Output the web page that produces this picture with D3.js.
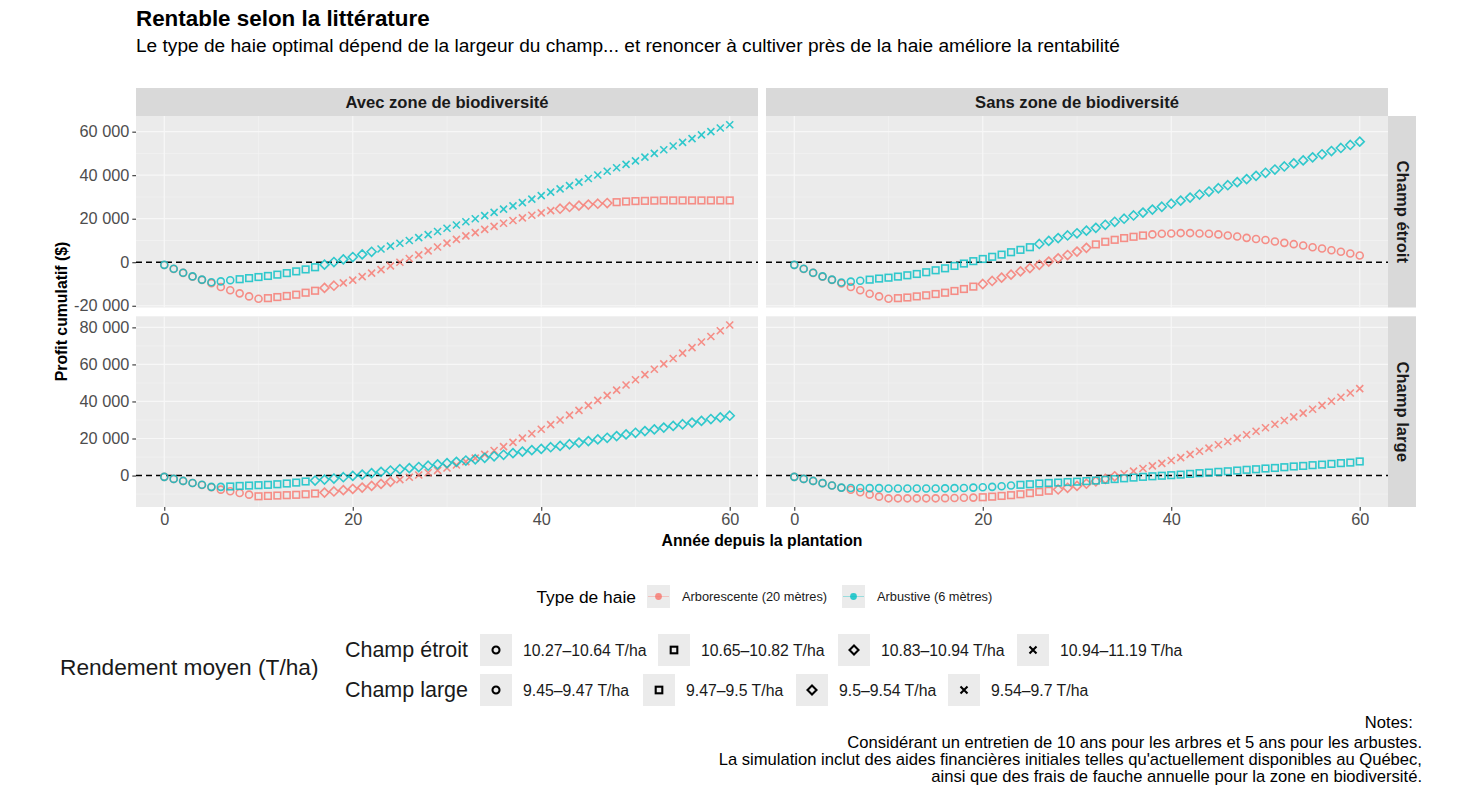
<!DOCTYPE html>
<html lang="fr">
<head>
<meta charset="utf-8">
<title>Rentable selon la littérature</title>
<style>
  body { margin: 0; background: #fff; }
  svg { font-family: "Liberation Sans", Arial, sans-serif; }
  .tick-label { fill: #4d4d4d; font-size: 16.3px; }
  .strip-text { fill: #1a1a1a; font-size: 16.6px; font-weight: bold; }
  .axis-title { fill: #000; font-size: 15.8px; font-weight: bold; }
</style>
</head>
<body>
<script src="https://cdn.jsdelivr.net/npm/d3@7"></script>
<script>
// années depuis la plantation
var annees = d3.range(0, 61);

// profit cumulatif, en milliers de $
var etroitAvecArbo = [-1.3,-3.1,-4.9,-6.6,-8.1,-9.6,-11.4,-12.9,-14.3,-15.7,-16.8,-16.5,-16.0,-15.5,-14.9,-14.0,-13.1,-11.8,-10.8,-9.5,
  -8.2,-6.6,-5.0,-3.4,-1.7,0.0,1.7,3.4,5.2,7.0,8.8,10.5,12.1,13.6,15.1,16.5,17.9,19.2,20.4,21.6,
  22.7,23.7,24.6,25.4,26.0,26.5,26.9,27.2,27.6,27.9,28.1,28.2,28.3,28.4,28.4,28.4,28.4,28.4,28.4,28.4,28.4];
var etroitAvecArbu = [-1.2,-3.0,-4.8,-6.5,-8.0,-9.2,-8.8,-8.3,-7.8,-7.3,-6.8,-6.3,-5.7,-5.0,-4.2,-3.3,-2.3,-1.1,0.1,1.3,
  2.4,3.6,4.8,6.1,7.4,8.7,10.0,11.3,12.7,14.1,15.6,17.1,18.6,20.0,21.4,22.9,24.4,25.9,27.4,29.0,
  30.6,32.2,33.7,35.2,36.8,38.5,40.1,41.8,43.4,45.0,46.6,48.3,50.0,51.7,53.4,55.1,56.8,58.5,60.0,61.7,63.2];
var etroitSansArbo = [-1.3,-3.1,-4.9,-6.6,-8.1,-9.7,-11.4,-12.9,-14.5,-15.7,-16.8,-16.5,-16.2,-15.7,-15.2,-14.6,-14.0,-13.2,-12.3,-11.2,
  -10.0,-8.6,-7.1,-5.7,-4.2,-2.7,-1.2,0.3,1.8,3.3,4.9,6.6,8.2,9.4,10.3,11.1,11.7,12.3,12.8,13.1,
  13.2,13.4,13.4,13.2,13.1,12.8,12.3,11.8,11.2,10.7,10.2,9.5,8.9,8.3,7.7,6.9,6.3,5.5,4.8,4.0,3.1];
var etroitSansArbu = [-1.2,-3.0,-4.8,-6.5,-8.0,-9.3,-8.9,-8.5,-8.0,-7.5,-7.1,-6.6,-6.0,-5.4,-4.6,-3.7,-2.8,-1.7,-0.6,0.5,
  1.5,2.5,3.5,4.6,5.7,6.9,8.4,9.8,11.1,12.3,13.3,14.5,15.8,17.2,18.6,20.0,21.5,22.8,24.2,25.5,
  26.9,28.3,29.7,31.1,32.5,34.0,35.4,36.8,38.2,39.7,41.1,42.6,44.0,45.4,46.8,48.2,49.6,51.1,52.5,53.9,55.4];
var largeAvecArbo = [-0.7,-1.8,-2.9,-4.0,-5.1,-6.3,-7.6,-8.5,-9.4,-10.3,-11.2,-11.0,-10.8,-10.6,-10.4,-10.1,-9.7,-9.2,-8.6,-7.9,
  -7.2,-6.5,-5.6,-4.5,-3.4,-2.2,-0.9,0.3,1.5,2.8,4.1,5.7,7.5,9.4,11.4,13.5,15.6,17.9,20.2,22.6,
  25.0,27.5,30.0,32.6,35.2,37.9,40.6,43.3,46.1,48.9,51.7,54.5,57.4,60.3,63.2,66.1,69.1,72.1,75.1,78.2,81.3];
var largeAvecArbu = [-0.7,-1.8,-2.9,-4.0,-5.0,-6.1,-6.1,-5.9,-5.6,-5.4,-5.2,-5.0,-4.7,-4.3,-3.8,-3.2,-2.7,-2.2,-1.6,-0.9,
  -0.2,0.5,1.3,2.0,2.7,3.4,4.0,4.6,5.3,6.0,6.7,7.4,8.1,8.8,9.6,10.4,11.2,12.1,12.9,13.7,
  14.4,15.3,16.0,16.9,17.8,18.6,19.5,20.4,21.3,22.2,23.1,24.0,24.9,25.9,26.8,27.7,28.6,29.5,30.5,31.4,32.3];
var largeSansArbo = [-0.7,-1.8,-2.9,-4.1,-5.4,-6.6,-7.7,-9.0,-10.3,-11.4,-12.3,-12.3,-12.3,-12.3,-12.3,-12.3,-12.2,-12.1,-12.0,-11.9,
  -11.7,-11.4,-11.0,-10.6,-10.1,-9.5,-8.8,-8.2,-7.5,-6.6,-5.6,-4.4,-3.1,-1.8,-0.4,1.0,2.4,3.8,5.2,6.6,
  8.1,9.7,11.4,13.1,14.8,16.6,18.4,20.2,22.0,23.9,25.8,27.7,29.7,31.7,33.7,35.8,37.9,40.1,42.3,44.6,46.9];
var largeSansArbu = [-0.7,-1.8,-2.9,-4.1,-5.4,-6.5,-6.7,-6.7,-6.8,-6.8,-7.0,-7.0,-7.0,-7.0,-7.0,-7.0,-6.9,-6.8,-6.7,-6.5,
  -6.3,-6.1,-5.8,-5.4,-5.0,-4.7,-4.3,-4.0,-3.8,-3.5,-3.3,-3.0,-2.7,-2.3,-1.9,-1.5,-1.1,-0.7,-0.4,-0.1,
  0.2,0.5,0.9,1.3,1.6,2.0,2.3,2.7,3.1,3.4,3.8,4.1,4.5,4.9,5.2,5.6,5.9,6.3,6.7,7.0,7.6];

// classe de rendement de chaque année (0 cercle, 1 carré, 2 losange, 3 croix)
var classeEtroitAvecArbo = "00000000000" + "111111" + "22" + "3333333333" + "3333333333" + "333" + "222222" + "1111111111" + "111";
var classeEtroitAvecArbu = "00000000" + "111111111" + "222222" + "3333333333" + "3333333333" + "3333333333" + "33333333";
var classeEtroitSansArbo = "00000000000" + "111111111" + "222222222222" + "111111" + "0000000000" + "0000000000" + "000";
var classeEtroitSansArbu = "00000000" + "1111111111" + "11111111" + "2222222222" + "2222222222" + "2222222222" + "22222";
var classeLargeAvecArbo  = "0000000000" + "1111111" + "22222222" + "3333333333" + "3333333333" + "3333333333" + "333333";
var classeLargeAvecArbu  = "0000000" + "111111111" + "2222222222" + "2222222222" + "2222222222" + "2222222222" + "22222";
var classeLargeSansArbo  = "0000000000" + "0000000000" + "11111111" + "2222222" + "3333333333" + "3333333333" + "333333";
var classeLargeSansArbu  = "0000000000" + "0000000000" + "0000" + "1111111111" + "1111111111" + "1111111111" + "1111111";

var zones = ["Avec zone de biodiversité", "Sans zone de biodiversité"];
var champs = ["Champ étroit", "Champ large"];
var typesHaie = ["Arborescente (20 mètres)", "Arbustive (6 mètres)"];
var couleurs = ["#F8766D", "#00BFC4"];
var classesEtroit = ["10.27–10.64 T/ha", "10.65–10.82 T/ha", "10.83–10.94 T/ha", "10.94–11.19 T/ha"];
var classesLarge = ["9.45–9.47 T/ha", "9.47–9.5 T/ha", "9.5–9.54 T/ha", "9.54–9.7 T/ha"];
var xTicks = [0, 20, 40, 60];
var yTicksEtroit = [-20000, 0, 20000, 40000, 60000];
var yTicksLarge = [0, 20000, 40000, 60000, 80000];

var notes = ["Notes:\u00a0\u00a0",
  "Considérant un entretien de 10 ans pour les arbres et 5 ans pour les arbustes.",
  "La simulation inclut des aides financières initiales telles qu'actuellement disponibles au Québec,",
  "ainsi que des frais de fauche annuelle pour la zone en biodiversité."];

// séries par panneau [ligne][colonne] -> [arborescente, arbustive]
var panneaux = [
  [[[etroitAvecArbo, classeEtroitAvecArbo], [etroitAvecArbu, classeEtroitAvecArbu]],
   [[etroitSansArbo, classeEtroitSansArbo], [etroitSansArbu, classeEtroitSansArbu]]],
  [[[largeAvecArbo, classeLargeAvecArbo], [largeAvecArbu, classeLargeAvecArbu]],
   [[largeSansArbo, classeLargeSansArbo], [largeSansArbu, classeLargeSansArbu]]]
];

var width = 1467, height = 786;
var colX = [[136, 758], [766, 1388]];
var rowY = [[116, 307.5], [316.3, 507]];
var stripH = 28, stripW = 28;

var svg = d3.select("body").append("svg")
  .attr("width", width).attr("height", height);

var fmt = function(v) {
  var s = d3.format(",")(Math.abs(v)).replace(/,/g, " ");
  return (v < 0 ? "-" : "") + s;
};

// symboles ggplot : 1 cercle, 0 carré, 5 losange, 4 croix
function symbole(g, classe, couleur, taille, sw) {
  var k = taille;
  if (classe === 0) {
    g.append("circle").attr("r", 3.5 * k);
  } else if (classe === 1) {
    g.append("rect").attr("x", -3.3 * k).attr("y", -3.3 * k)
      .attr("width", 6.6 * k).attr("height", 6.6 * k);
  } else if (classe === 2) {
    g.append("path").attr("d", "M0," + (-4.5 * k) + "L" + (4.5 * k) + ",0L0," + (4.5 * k) + "L" + (-4.5 * k) + ",0Z");
  } else {
    var a = 3.5 * k;
    g.append("path").attr("d", "M" + -a + "," + -a + "L" + a + "," + a + "M" + -a + "," + a + "L" + a + "," + -a);
  }
  g.selectAll("*").attr("fill", "none").attr("stroke", couleur).attr("stroke-width", sw);
}

// titres
svg.append("text").attr("x", 136).attr("y", 26)
  .style("font-size", "22.4px").style("font-weight", "bold").text("Rentable selon la littérature");
svg.append("text").attr("x", 136).attr("y", 52)
  .style("font-size", "19.1px")
  .text("Le type de haie optimal dépend de la largeur du champ... et renoncer à cultiver près de la haie améliore la rentabilité");

var x = [0, 1].map(function(c) {
  return d3.scaleLinear().domain([-3, 63]).range(colX[c]);
});

var y = [0, 1].map(function(r) {
  var vals = [];
  panneaux[r].forEach(function(p) { p.forEach(function(s) { vals = vals.concat(s[0]); }); });
  var ext = d3.extent(vals, function(v) { return v * 1000; });
  var pad = (ext[1] - ext[0]) * 0.05;
  return d3.scaleLinear().domain([ext[0] - pad, ext[1] + pad]).range([rowY[r][1], rowY[r][0]]);
});
var yTicks = [yTicksEtroit, yTicksLarge];

// bandeaux du haut
zones.forEach(function(z, c) {
  svg.append("rect").attr("x", colX[c][0]).attr("y", rowY[0][0] - stripH)
    .attr("width", colX[c][1] - colX[c][0]).attr("height", stripH).attr("fill", "#D9D9D9");
  svg.append("text").attr("class", "strip-text")
    .attr("x", (colX[c][0] + colX[c][1]) / 2).attr("y", rowY[0][0] - stripH / 2)
    .attr("text-anchor", "middle").attr("dominant-baseline", "central").text(z);
});

// bandeaux de droite
champs.forEach(function(ch, r) {
  svg.append("rect").attr("x", colX[1][1]).attr("y", rowY[r][0])
    .attr("width", stripW).attr("height", rowY[r][1] - rowY[r][0]).attr("fill", "#D9D9D9");
  var cx = colX[1][1] + stripW / 2, cy = (rowY[r][0] + rowY[r][1]) / 2;
  svg.append("text").attr("class", "strip-text")
    .attr("transform", "translate(" + cx + "," + cy + ") rotate(90)")
    .attr("text-anchor", "middle").attr("dominant-baseline", "central").text(ch);
});

// panneaux
champs.forEach(function(ch, r) {
  zones.forEach(function(z, c) {
    var g = svg.append("g");
    var xs = x[c], ys = y[r];
    g.append("rect").attr("x", colX[c][0]).attr("y", rowY[r][0])
      .attr("width", colX[c][1] - colX[c][0]).attr("height", rowY[r][1] - rowY[r][0])
      .attr("fill", "#EBEBEB");

    // grille mineure
    var yt = yTicks[r];
    var yMin = [];
    for (var i = 0; i < yt.length - 1; i++) yMin.push((yt[i] + yt[i + 1]) / 2);
    if (r === 1) yMin.unshift(-10000);
    var xMin = [10, 30, 50];
    g.selectAll(".ymin").data(yMin.filter(function(v) {
        return ys(v) > rowY[r][0] && ys(v) < rowY[r][1];
      })).enter().append("line")
      .attr("x1", colX[c][0]).attr("x2", colX[c][1])
      .attr("y1", function(d) { return ys(d); }).attr("y2", function(d) { return ys(d); })
      .attr("stroke", "#F4F4F4").attr("stroke-width", 0.6);
    g.selectAll(".xmin").data(xMin).enter().append("line")
      .attr("y1", rowY[r][0]).attr("y2", rowY[r][1])
      .attr("x1", function(d) { return xs(d); }).attr("x2", function(d) { return xs(d); })
      .attr("stroke", "#F4F4F4").attr("stroke-width", 0.6);
    // grille majeure
    g.selectAll(".ymaj").data(yt).enter().append("line")
      .attr("x1", colX[c][0]).attr("x2", colX[c][1])
      .attr("y1", function(d) { return ys(d); }).attr("y2", function(d) { return ys(d); })
      .attr("stroke", "#F7F7F7").attr("stroke-width", 1.2);
    g.selectAll(".xmaj").data(xTicks).enter().append("line")
      .attr("y1", rowY[r][0]).attr("y2", rowY[r][1])
      .attr("x1", function(d) { return xs(d); }).attr("x2", function(d) { return xs(d); })
      .attr("stroke", "#F7F7F7").attr("stroke-width", 1.2);

    // ligne zéro
    g.append("line").attr("x1", colX[c][0]).attr("x2", colX[c][1])
      .attr("y1", ys(0)).attr("y2", ys(0))
      .attr("stroke", "#000").attr("stroke-width", 1.4).attr("stroke-dasharray", "6,4");

    // points
    panneaux[r][c].forEach(function(serie, s) {
      var pts = annees.map(function(a, i) {
        return { annee: a, profit: serie[0][i] * 1000, classe: +serie[1][i] };
      });
      g.selectAll(".pt" + s).data(pts).enter().append("g")
        .attr("transform", function(d) { return "translate(" + xs(d.annee) + "," + ys(d.profit) + ")"; })
        .attr("opacity", 0.8)
        .each(function(d) { symbole(d3.select(this), d.classe, couleurs[s], 1, 1.6); });
    });
  });
});

// axe y
champs.forEach(function(ch, r) {
  var ax = svg.append("g").attr("transform", "translate(" + colX[0][0] + ",0)")
    .call(d3.axisLeft(y[r]).tickValues(yTicks[r]).tickSize(3.7).tickPadding(3).tickFormat(fmt));
  ax.select(".domain").remove();
  ax.selectAll(".tick line").attr("stroke", "#333").attr("stroke-width", 1.1);
  ax.selectAll(".tick text").attr("class", "tick-label").attr("fill", null);
  ax.attr("font-family", null).attr("font-size", null);
});

// axe x
zones.forEach(function(z, c) {
  var ax = svg.append("g").attr("transform", "translate(0," + rowY[1][1] + ")")
    .call(d3.axisBottom(x[c]).tickValues(xTicks).tickSize(3.7).tickPadding(3));
  ax.select(".domain").remove();
  ax.selectAll(".tick line").attr("stroke", "#333").attr("stroke-width", 1.1);
  ax.selectAll(".tick text").attr("class", "tick-label").attr("fill", null).attr("dy", "0.72em");
  ax.attr("font-family", null).attr("font-size", null);
});

svg.append("text").attr("class", "axis-title")
  .attr("x", (colX[0][0] + colX[1][1]) / 2).attr("y", 546)
  .attr("text-anchor", "middle").text("Année depuis la plantation");
svg.append("text").attr("class", "axis-title")
  .attr("transform", "translate(67," + (rowY[0][0] + rowY[1][1]) / 2 + ") rotate(-90)")
  .attr("text-anchor", "middle").text("Profit cumulatif ($)");

// légende couleur
var lc = svg.append("g");
lc.append("text").attr("x", 636).attr("y", 603).attr("text-anchor", "end")
  .style("font-size", "17.4px").text("Type de haie");
var legX = [647, 842];
typesHaie.forEach(function(t, i) {
  var k = lc.append("g").attr("transform", "translate(" + legX[i] + ",585)");
  k.append("rect").attr("width", 23).attr("height", 23).attr("fill", "#EBEBEB");
  k.append("line").attr("x1", 1).attr("x2", 22).attr("y1", 11.5).attr("y2", 11.5)
    .attr("stroke", couleurs[i]).attr("stroke-opacity", 0.35).attr("stroke-width", 1);
  k.append("circle").attr("cx", 11.5).attr("cy", 11.5).attr("r", 3.4)
    .attr("fill", couleurs[i]).attr("opacity", 0.8);
  lc.append("text").attr("x", legX[i] + 35).attr("y", 601)
    .style("font-size", "12.8px").attr("fill", "#1a1a1a").text(t);
});

// légende forme
var ls = svg.append("g");
ls.append("text").attr("x", 60).attr("y", 675).style("font-size", "22.7px").attr("fill", "#1a1a1a")
  .text("Rendement moyen (T/ha)");
var rangs = [
  { titre: "Champ étroit", cy: 650, labels: classesEtroit, boxX: [480, 658, 838, 1017] },
  { titre: "Champ large", cy: 690, labels: classesLarge, boxX: [480, 643, 796, 948] }
];
rangs.forEach(function(rg) {
  ls.append("text").attr("x", 468).attr("y", rg.cy + 7).attr("text-anchor", "end")
    .style("font-size", "21.5px").attr("fill", "#1a1a1a").text(rg.titre);
  rg.labels.forEach(function(lab, i) {
    var bx = rg.boxX[i];
    ls.append("rect").attr("x", bx).attr("y", rg.cy - 16).attr("width", 32).attr("height", 32)
      .attr("fill", "#EBEBEB");
    var g = ls.append("g").attr("transform", "translate(" + (bx + 16) + "," + rg.cy + ")");
    symbole(g, i, "#000", 1, 2.1);
    ls.append("text").attr("x", bx + 43).attr("y", rg.cy + 5.5).style("font-size", "15.8px")
      .attr("fill", "#1a1a1a").text(lab);
  });
});

// notes
var ny = [728, 748, 765, 782];
notes.forEach(function(n, i) {
  svg.append("text").attr("x", 1422).attr("y", ny[i]).attr("text-anchor", "end")
    .style("font-size", "16.6px").text(n);
});
</script>
</body>
</html>
